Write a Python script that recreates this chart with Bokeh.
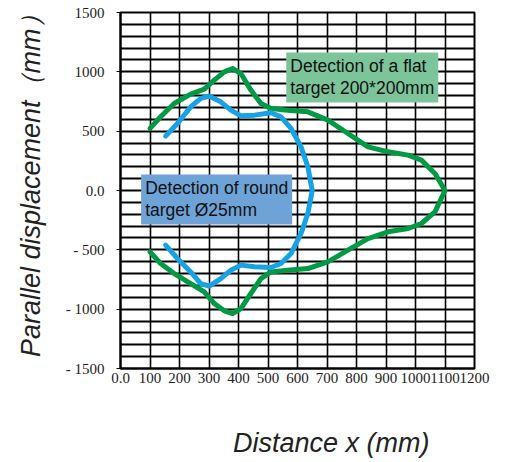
from bokeh.plotting import figure
from bokeh.models import FixedTicker, Label, Range1d
from bokeh.embed import file_html
from bokeh.resources import INLINE

# ---- data ----
x_ticks = [0, 100, 200, 300, 400, 500, 600, 700, 800, 900, 1000, 1100, 1200]
x_tick_labels = ["0.0", "100", "200", "300", "400", "500", "600", "700", "800",
                 "900", "1000", "1100", "1200"]
y_ticks = [-1500, -1000, -500, 0, 500, 1000, 1500]
y_tick_labels = ["- 1500", "- 1000", "- 500", "0.0", "500", "1000", "1500"]
grid_x = list(range(0, 1300, 100))
grid_y = list(range(-1500, 1600, 100))

flat_x = [100, 136, 182, 238, 284, 318, 352, 380, 408, 442, 476, 510, 567, 635,
          703, 771, 839, 907, 975, 1020, 1066, 1100,
          1066, 1020, 975, 907, 839, 771, 703, 635, 567, 510, 476, 442, 408,
          380, 352, 318, 284, 238, 182, 136, 100]
flat_y = [523, 621, 733, 812, 854, 930, 1000, 1028, 986, 846, 733, 691, 677, 663,
          593, 480, 368, 326, 298, 256, 143, 0,
          -180, -278, -320, -348, -405, -503, -601, -658, -672, -686, -742, -868,
          -995, -1037, -1014, -953, -854, -784, -700, -615, -517]

round_x = [153, 193, 238, 272, 301, 340, 374, 408, 454, 510, 544, 578, 612, 635, 650,
           635, 612, 578, 544, 510, 454, 408, 374, 340, 301, 272, 238, 193, 153]
round_y = [458, 565, 705, 776, 795, 747, 677, 629, 635, 655, 621, 523, 368, 200, 0,
           -194, -362, -531, -615, -649, -643, -629, -672, -742, -806, -784, -686,
           -573, -461]

flat_label = "Detection of a flat\ntarget 200*200mm"
round_label = "Detection of round\ntarget Ø25mm"
x_title = "Distance x (mm)"
y_title = "Parallel displacement（mm）"

# ---- figure ----
p = figure(width=500, height=460, output_backend="svg", toolbar_location=None,
           x_range=Range1d(0, 1200), y_range=Range1d(-1500, 1500),
           min_border_left=120, min_border_right=26, min_border_top=12,
           min_border_bottom=91)
p.background_fill_color = "white"
p.border_fill_color = "white"
p.outline_line_color = "black"
p.outline_line_width = 2

p.xgrid.ticker = FixedTicker(ticks=grid_x)
p.ygrid.ticker = FixedTicker(ticks=grid_y)
p.xgrid.grid_line_color = "black"
p.xgrid.grid_line_width = 1.6
p.ygrid.grid_line_color = "black"
p.ygrid.grid_line_width = 2

for ax in (p.xaxis[0], p.yaxis[0]):
    ax.axis_line_color = "black"
    ax.axis_line_width = 2
    ax.major_tick_line_color = "black"
    ax.minor_tick_line_color = None
    ax.major_label_text_font = "Liberation Serif"
    ax.major_label_text_font_size = "15px"
    ax.major_label_text_color = "#222222"
    ax.axis_label_text_font = "Liberation Sans"
    ax.axis_label_text_font_style = "italic"
    ax.axis_label_text_color = "#222222"

p.xaxis.ticker = FixedTicker(ticks=x_ticks)
p.xaxis.major_label_overrides = dict(zip(x_ticks, x_tick_labels))
p.xaxis.major_tick_out = 0
p.xaxis.major_tick_in = 0
p.xaxis.major_label_standoff = 4
# leading no-break spaces shift the title to the right, as in the reference
p.xaxis.axis_label = "\u00a0" * 9 + x_title
p.xaxis.axis_label_text_font_size = "27px"
p.xaxis.axis_label_standoff = 42

p.yaxis.ticker = FixedTicker(ticks=y_ticks)
p.yaxis.major_label_overrides = dict(zip(y_ticks, y_tick_labels))
p.yaxis.major_tick_out = 4
p.yaxis.major_tick_in = 0
p.yaxis.major_label_standoff = 12
p.yaxis.axis_label = "\u00a0" * 3 + y_title
p.yaxis.axis_label_text_font_size = "27px"
p.yaxis.axis_label_standoff = 17

p.line(flat_x, flat_y, line_color="#009a44", line_width=5, line_join="round",
       line_cap="round")
p.line(round_x, round_y, line_color="#15a3e6", line_width=5, line_join="round",
       line_cap="round")

p.add_layout(Label(x=562, y=1163, text=flat_label, anchor="top_left",
                   text_font="Liberation Sans", text_font_size="17.5px",
                   text_color="#111111", background_fill_color="#7cc59b",
                   padding=4, text_line_height=1.1))
p.add_layout(Label(x=70, y=135, text=round_label, anchor="top_left",
                   text_font="Liberation Sans", text_font_size="17.5px",
                   text_color="#111111", background_fill_color="#6ea3d8",
                   padding=4, text_line_height=1.1))

open("out.html", "w").write(file_html(p, INLINE))
